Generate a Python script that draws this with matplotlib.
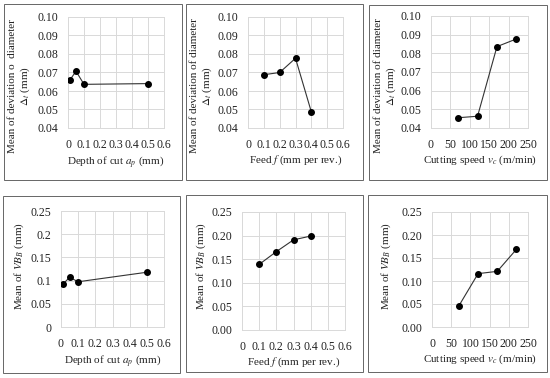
import matplotlib
matplotlib.use("Agg")
import matplotlib.pyplot as plt
from matplotlib.patches import Rectangle
from matplotlib.ticker import FormatStrFormatter, FuncFormatter

# Data
depth_cut = [0.01, 0.05, 0.1, 0.5]
feed = [0.1, 0.2, 0.3, 0.4]
speed = [70, 120, 170, 220]

dev_depth = [0.0657, 0.0707, 0.0636, 0.0640]
dev_feed = [0.0688, 0.0700, 0.0777, 0.0487]
dev_speed = [0.0455, 0.0463, 0.0836, 0.0877]

vb_depth = [0.092, 0.107, 0.0975, 0.118]
vb_feed = [0.139, 0.166, 0.191, 0.199]
vb_speed = [0.046, 0.116, 0.121, 0.169]

W, H = 550, 378
plt.rcParams['font.family'] = ['Liberation Serif', 'DejaVu Serif']
plt.rcParams['mathtext.fontset'] = 'stix'

fig = plt.figure(figsize=(W / 100, H / 100), dpi=100)


def px_axes(l, t, r, b):
    return fig.add_axes([l / W, 1 - b / H, (r - l) / W, (b - t) / H])


def px_box(l, t, r, b):
    fig.patches.append(Rectangle((l / W, 1 - b / H), (r - l) / W, (b - t) / H,
                                 transform=fig.transFigure, fill=False,
                                 edgecolor='#666666', linewidth=0.7))


boxes = [(4, 4, 182, 180), (186, 4, 363, 180), (369, 5, 547, 180),
         (3, 196, 180, 373), (186, 195, 363, 372), (368, 195, 547, 372)]
for bx in boxes:
    px_box(*bx)

dev_label = r'$\mathit{\Delta}_t$ (mm)'
vb_label = r'Mean of $\mathit{VB}_B$ (mm)'

# (axes px box, x, y, xlabel, ylabel, ylabel px centre, x range, y range, y fmt, x fmt)
panels = [
    ((68, 17, 164, 128), depth_cut, dev_depth, r'Depth of cut $a_p$ (mm)',
     'Mean of deviation o  diameter\n' + dev_label, (20, 86),
     (0, 0.6, 0.1), (0.04, 0.10, 0.01), '%.2f', 'x1'),
    ((248, 17, 343, 128), feed, dev_feed, r'Feed $f$ (mm per rev.)',
     'Mean of deviation of diameter\n' + dev_label, (202, 86),
     (0, 0.6, 0.1), (0.04, 0.10, 0.01), '%.2f', 'x1'),
    ((431, 16, 528, 128), speed, dev_speed, r'Cutting speed $v_c$ (m/min)',
     'Mean of deviation of diameter\n' + dev_label, (386, 86),
     (0, 250, 50), (0.04, 0.10, 0.01), '%.2f', 'int'),
    ((61, 211, 164, 327), depth_cut, vb_depth, r'Depth of cut $a_p$ (mm)',
     vb_label, (19, 266),
     (0, 0.6, 0.1), (0, 0.25, 0.05), 'g', 'x1'),
    ((242, 212, 345, 330), feed, vb_feed, r'Feed $f$ (mm per rev.)',
     vb_label, (201, 266),
     (0, 0.6, 0.1), (0, 0.25, 0.05), '%.2f', 'x1'),
    ((432, 212, 528, 327), speed, vb_speed, r'Cutting speed $v_c$ (m/min)',
     vb_label, (386, 266),
     (0, 250, 50), (0, 0.25, 0.05), '%.2f', 'int'),
]

for pos, xs, ys, xlab, ylab, ypos, xr, yr, yfmt, xfmt in panels:
    ax = px_axes(*pos)
    ax.plot(xs, ys, color='#333333', linewidth=0.8, marker='o',
            markersize=4, markerfacecolor='black', markeredgecolor='black', zorder=3)
    n = int(round((xr[1] - xr[0]) / xr[2]))
    ax.set_xticks([xr[0] + i * xr[2] for i in range(n + 1)])
    m = int(round((yr[1] - yr[0]) / yr[2]))
    ax.set_yticks([yr[0] + i * yr[2] for i in range(m + 1)])
    ax.set_xlim(xr[0], xr[1])
    ax.set_ylim(yr[0], yr[1])
    if xfmt == 'int':
        ax.xaxis.set_major_formatter(FuncFormatter(lambda v, p: '%d' % round(v)))
    else:
        ax.xaxis.set_major_formatter(FuncFormatter(lambda v, p: '0' if abs(v) < 1e-9 else '%.1f' % v))
    if yfmt == 'g':
        ax.yaxis.set_major_formatter(FuncFormatter(lambda v, p: '%g' % round(v, 2)))
    else:
        ax.yaxis.set_major_formatter(FormatStrFormatter(yfmt))
    ax.grid(True, color='#d9d9d9', linewidth=0.7)
    ax.set_axisbelow(True)
    for s in ax.spines.values():
        s.set_color('#d9d9d9')
        s.set_linewidth(0.7)
    ax.tick_params(length=0, labelsize=8.5, colors='#222222')
    ax.tick_params(axis='x', pad=8)
    ax.tick_params(axis='y', pad=7)
    ax.set_xlabel(xlab, fontsize=8, labelpad=2, color='#222222')
    fig.text(ypos[0] / W, 1 - ypos[1] / H, ylab, rotation=90, ha='center', va='center',
             multialignment='center', fontsize=8, color='#222222', linespacing=1.15)

fig.savefig('out.png', dpi=100)
